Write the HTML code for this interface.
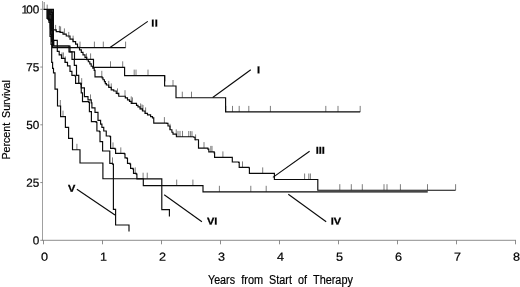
<!DOCTYPE html>
<html><head><meta charset="utf-8"><title>Survival by stage</title>
<style>
html,body{margin:0;padding:0;background:#fff;}
body{width:520px;height:287px;overflow:hidden;}
svg{display:block;}
</style></head><body>
<svg width="520" height="287" viewBox="0 0 520 287">
<rect width="520" height="287" fill="#fff"/>
<g stroke="#707070" stroke-width="0.8" fill="none">
<path d="M42.5,1 V240.3" stroke="#808080" stroke-width="0.75"/>
<path d="M42.1,240.3 H516"/>
<path d="M40.3,9.30 H42.5"/>
<path d="M40.3,67.05 H42.5"/>
<path d="M40.3,124.80 H42.5"/>
<path d="M40.3,182.55 H42.5"/>
<path d="M40.3,240.30 H42.5"/>
<path d="M43.50,240.3 V244.3"/>
<path d="M102.50,240.3 V244.3"/>
<path d="M161.50,240.3 V244.3"/>
<path d="M220.50,240.3 V244.3"/>
<path d="M279.50,240.3 V244.3"/>
<path d="M338.50,240.3 V244.3"/>
<path d="M397.50,240.3 V244.3"/>
<path d="M456.50,240.3 V244.3"/>
<path d="M515.50,240.3 V244.3"/>
</g>
<g stroke="#666" stroke-width="0.85" fill="none" transform="translate(0,0.4)">
<path d="M44.2,1.6 V9 M47.2,4.2 V9"/>
<path d="M80.00,47.20 v-6 M94.40,47.20 v-6 M103.30,47.20 v-6 M125.60,47.20 v-6"/>
<path d="M86.50,59.00 v-6 M90.60,59.00 v-6 M110.50,66.90 v-6 M122.70,66.90 v-6 M134.20,75.20 v-6 M136.00,75.20 v-6 M148.00,75.20 v-6 M165.00,81.00 v-6 M173.00,85.60 v-6 M182.30,97.30 v-6 M191.50,97.30 v-6 M225.80,111.50 v-6 M232.50,111.50 v-6 M239.20,111.50 v-6 M248.80,111.50 v-6 M270.40,111.50 v-6 M325.80,111.50 v-6 M338.00,111.50 v-6 M360.20,111.50 v-6"/>
<path d="M55.60,30.50 v-6 M59.40,31.50 v-6 M60.60,32.00 v-6 M64.40,34.00 v-6 M68.75,37.50 v-6 M73.10,41.25 v-6 M101.80,76.40 v-6 M108.75,86.50 v-6 M111.25,89.00 v-6 M117.50,94.00 v-6 M125.00,95.80 v-6 M131.25,102.00 v-6 M132.50,103.00 v-6 M140.60,109.00 v-6 M142.00,110.00 v-6 M143.00,110.60 v-6 M145.60,113.00 v-6 M164.40,122.70 v-6 M170.00,129.40 v-6 M176.25,135.00 v-6 M178.00,136.50 v-6 M180.00,136.50 v-6 M182.50,136.50 v-6 M188.75,136.60 v-6 M190.60,136.70 v-6 M192.00,136.80 v-6 M195.60,140.00 v-6 M204.00,147.70 v-6 M210.80,151.50 v-6 M212.00,151.50 v-6 M222.90,157.00 v-6 M242.50,167.00 v-6 M262.70,173.00 v-6 M304.60,179.10 v-6 M308.80,179.10 v-6 M310.40,179.10 v-6 M339.80,189.80 v-6 M351.30,189.80 v-6 M362.30,189.80 v-6 M384.00,189.80 v-6 M387.00,189.80 v-6 M400.40,189.80 v-6 M427.50,189.80 v-6 M455.60,189.80 v-6"/>
<path d="M60.30,105.60 v-6 M63.00,116.25 v-6 M76.90,149.40 v-6 M143.10,178.30 v-6 M147.25,178.30 v-6 M176.70,185.20 v-6 M192.90,185.20 v-6 M219.40,191.40 v-6 M250.80,191.40 v-6 M266.20,191.40 v-6"/>
<path d="M112.50,163.00 v-6 M62.00,58.00 v-6 M63.40,58.00 v-6 M65.30,62.00 v-6"/>
<path d="M113.00,148.00 v-6 M120.80,153.00 v-6 M135.25,173.00 v-6 M81.70,83.75 v-6 M90.50,100.00 v-6"/>
</g>
<g stroke="#0a0a0a" stroke-width="1.15" fill="none" stroke-linejoin="miter" transform="translate(0,0.4)">
<path d="M46.9,8.9 H53.9 V45 H51.6 L51,38 L50.4,33 L49.7,27 L49.4,21 H48.6 L48.4,17.5 H46.9 Z" fill="#111" stroke="none" opacity="0.82"/>
<path d="M48.00,9.00 L48.00,19.00 L50.70,19.00 L50.70,34.00 L51.60,34.00 L51.60,41.00 L52.50,41.00 L52.50,47.20 L125.60,47.20"/>
<path d="M43.50,9.00 L53.40,9.00 L53.40,45.60 L69.00,45.60 L69.00,51.50 L74.50,51.50 L74.50,59.00 L93.50,59.00 L93.50,66.90 L124.60,66.90 L124.60,75.20 L164.60,75.20 L164.60,85.60 L176.00,85.60 L176.00,97.30 L225.60,97.30 L225.60,111.50 L360.20,111.50"/>
<path d="M51.20,9.00 L51.20,12.00 L52.40,12.00 L52.40,20.00 L53.20,20.00 L53.20,29.40 L56.25,29.40 L56.25,31.25 L60.00,31.25 L60.00,31.90 L63.00,31.90 L63.00,33.75 L66.25,33.75 L66.25,35.60 L70.00,35.60 L70.00,38.75 L73.00,38.75 L73.00,41.25 L75.60,41.25 L75.60,43.75 L77.50,43.75 L77.50,46.90 L79.50,46.90 L79.50,49.50 L81.30,49.50 L81.30,52.00 L83.00,52.00 L83.00,54.50 L85.00,54.50 L85.00,57.00 L86.80,57.00 L86.80,59.30 L88.30,59.30 L88.30,61.30 L89.80,61.30 L89.80,63.50 L91.20,63.50 L91.20,65.80 L92.80,65.80 L92.80,67.80 L94.20,67.80 L94.20,70.00 L95.00,70.00 L95.00,76.40 L102.10,76.40 L102.10,77.40 L103.00,77.40 L103.00,79.30 L104.40,79.30 L104.40,81.20 L105.30,81.20 L105.30,83.20 L106.40,83.20 L106.40,84.60 L108.75,84.60 L108.75,86.90 L111.25,86.90 L111.25,89.40 L113.75,89.40 L113.75,90.60 L116.25,90.60 L116.25,93.00 L118.75,93.00 L118.75,95.80 L125.30,95.80 L125.30,97.50 L127.50,97.50 L127.50,99.50 L129.50,99.50 L129.50,101.00 L131.25,101.00 L131.25,103.00 L136.50,103.00 L136.50,105.00 L138.00,105.00 L138.00,106.50 L140.00,106.50 L140.00,108.50 L142.50,108.50 L142.50,110.60 L145.00,110.60 L145.00,113.00 L147.50,113.00 L147.50,114.50 L150.60,114.50 L150.60,116.25 L152.50,116.25 L152.50,117.50 L153.75,117.50 L153.75,122.70 L166.90,122.70 L166.90,123.00 L168.00,123.00 L168.00,125.60 L170.00,125.60 L170.00,129.40 L171.90,129.40 L171.90,131.90 L173.00,131.90 L173.00,133.75 L176.40,133.75 L176.40,136.40 L193.75,136.40 L193.75,136.90 L195.00,136.90 L195.00,139.40 L198.50,139.40 L198.50,147.70 L207.90,147.70 L207.90,148.70 L208.80,148.70 L208.80,151.50 L214.20,151.50 L214.20,152.50 L214.60,152.50 L214.60,157.00 L231.30,157.00 L232.30,157.00 L232.30,161.60 L238.60,161.60 L238.60,162.00 L239.20,162.00 L239.20,167.00 L248.80,167.00 L248.80,167.30 L249.40,167.30 L249.40,173.00 L273.80,173.00 L274.40,173.00 L274.40,179.10 L317.50,179.10 L317.80,179.10 L317.80,189.85 L455.60,189.85"/>
<path d="M47.00,9.00 L47.00,18.00 L49.00,18.00 L49.00,22.00 L50.00,22.00 L50.00,36.00 L51.00,36.00 L51.00,44.00 L51.70,44.00 L51.70,62.00 L52.60,62.00 L52.60,68.00 L53.50,68.00 L53.50,72.50 L55.00,72.50 L55.00,88.75 L57.50,88.75 L57.50,105.60 L60.60,105.60 L60.60,116.25 L65.40,116.25 L65.40,127.00 L68.60,127.00 L68.60,138.00 L72.50,138.00 L72.50,149.40 L80.00,149.40 L80.00,162.60 L102.90,162.60 L102.90,178.30 L143.30,178.30 L143.30,185.20 L203.00,185.20 L203.00,191.45 L427.75,191.45"/>
<path d="M49.00,9.00 L49.00,20.00 L51.40,20.00 L51.40,30.00 L52.20,30.00 L52.20,36.00 L52.80,36.00 L52.80,40.00 L57.30,40.00 L57.30,51.00 L59.20,51.00 L59.20,54.50 L61.50,54.50 L61.50,58.00 L65.00,58.00 L65.00,62.00 L67.50,62.00 L67.50,65.50 L70.00,65.50 L70.00,71.00 L71.90,71.00 L71.90,75.00 L75.00,75.00 L75.00,75.60 L75.60,75.60 L75.60,83.00 L80.60,83.00 L80.60,83.75 L81.25,83.75 L81.25,92.50 L82.50,92.50 L82.50,101.25 L88.75,101.25 L88.75,101.90 L89.40,101.90 L89.40,111.25 L91.40,111.25 L91.40,121.25 L96.25,121.25 L96.25,121.90 L96.90,121.90 L96.90,130.60 L99.40,130.60 L99.40,131.25 L100.00,131.25 L100.00,141.25 L102.60,141.25 L102.60,150.60 L109.80,150.60 L109.80,163.00 L112.50,163.00 L112.50,163.75 L113.40,163.75 L113.40,209.00 L115.60,209.00 L115.60,224.60 L129.00,224.60 L129.00,231.00"/>
<path d="M50.00,9.00 L50.00,14.00 L51.20,14.00 L51.20,21.00 L52.20,21.00 L52.20,28.00 L53.00,28.00 L53.00,40.00 L53.80,40.00 L53.80,45.60 L70.00,45.60 L70.00,51.50 L72.00,51.50 L72.00,59.00 L74.30,59.00 L74.30,65.00 L76.50,65.00 L76.50,75.00 L78.75,75.00 L78.75,83.00 L81.25,83.00 L81.25,87.50 L84.40,87.50 L84.40,96.25 L88.00,96.25 L88.00,99.40 L91.25,99.40 L91.25,102.50 L91.90,102.50 L91.90,107.50 L95.00,107.50 L95.00,112.00 L98.00,112.00 L98.00,120.00 L100.60,120.00 L100.60,123.75 L101.90,123.75 L101.90,127.00 L103.75,127.00 L103.75,130.60 L106.25,130.60 L106.25,135.60 L110.00,135.60 L110.00,136.25 L110.60,136.25 L110.60,148.00 L115.00,148.00 L115.00,148.75 L115.60,148.75 L115.60,153.00 L124.40,153.00 L124.40,153.50 L125.00,153.50 L125.00,157.50 L126.90,157.50 L126.90,158.00 L127.50,158.00 L127.50,163.00 L130.00,163.00 L130.00,163.75 L130.60,163.75 L130.60,168.00 L133.00,168.00 L133.00,168.75 L133.50,168.75 L133.50,173.00 L136.25,173.00 L136.25,173.75 L136.90,173.75 L136.90,178.50 L161.80,178.50 L161.80,209.20 L169.40,209.20 L169.40,216.00"/>
</g>
<g stroke="#0a0a0a" stroke-width="1.1" fill="none">
<path d="M110,47.5 L147.8,21.4"/>
<path d="M212.7,97.5 L250.8,69.7"/>
<path d="M272.9,177.4 L309.6,151.3"/>
<path d="M288.3,194.2 L326.2,221.7"/>
<path d="M76.9,189.2 L115,215"/>
<path d="M164.2,194.8 L201.9,221.7"/>
</g>
<g font-family="'Liberation Sans', Arial, sans-serif" fill="#000">
<text transform="translate(39.2,13.60) rotate(0.05)" font-size="11.7" text-anchor="end" stroke="#000" stroke-width="0.2"><tspan letter-spacing="-1.9">1</tspan>00</text>
<text transform="translate(39.2,71.35) rotate(0.05)" font-size="11.7" text-anchor="end" stroke="#000" stroke-width="0.2">75</text>
<text transform="translate(39.2,129.10) rotate(0.05)" font-size="11.7" text-anchor="end" stroke="#000" stroke-width="0.2">50</text>
<text transform="translate(39.2,186.85) rotate(0.05)" font-size="11.7" text-anchor="end" stroke="#000" stroke-width="0.2">25</text>
<text transform="translate(39.2,244.60) rotate(0.05)" font-size="11.7" text-anchor="end" stroke="#000" stroke-width="0.2">0</text>
<text transform="translate(44.50,260.8) rotate(0.05) scale(1.08,1)" font-size="11.7" text-anchor="middle" stroke="#000" stroke-width="0.2">0</text>
<text transform="translate(103.50,260.8) rotate(0.05) scale(1.08,1)" font-size="11.7" text-anchor="middle" stroke="#000" stroke-width="0.2">1</text>
<text transform="translate(162.50,260.8) rotate(0.05) scale(1.08,1)" font-size="11.7" text-anchor="middle" stroke="#000" stroke-width="0.2">2</text>
<text transform="translate(221.50,260.8) rotate(0.05) scale(1.08,1)" font-size="11.7" text-anchor="middle" stroke="#000" stroke-width="0.2">3</text>
<text transform="translate(280.50,260.8) rotate(0.05) scale(1.08,1)" font-size="11.7" text-anchor="middle" stroke="#000" stroke-width="0.2">4</text>
<text transform="translate(339.50,260.8) rotate(0.05) scale(1.08,1)" font-size="11.7" text-anchor="middle" stroke="#000" stroke-width="0.2">5</text>
<text transform="translate(398.50,260.8) rotate(0.05) scale(1.08,1)" font-size="11.7" text-anchor="middle" stroke="#000" stroke-width="0.2">6</text>
<text transform="translate(457.50,260.8) rotate(0.05) scale(1.08,1)" font-size="11.7" text-anchor="middle" stroke="#000" stroke-width="0.2">7</text>
<text transform="translate(516.50,260.8) rotate(0.05) scale(1.08,1)" font-size="11.7" text-anchor="middle" stroke="#000" stroke-width="0.2">8</text>
<text x="208.0" y="283.6" font-size="12" textLength="27.0" lengthAdjust="spacingAndGlyphs" stroke="#000" stroke-width="0.2">Years</text>
<text x="241.2" y="283.6" font-size="12" textLength="21.9" lengthAdjust="spacingAndGlyphs" stroke="#000" stroke-width="0.2">from</text>
<text x="269.1" y="283.6" font-size="12" textLength="22.8" lengthAdjust="spacingAndGlyphs" stroke="#000" stroke-width="0.2">Start</text>
<text x="297.9" y="283.6" font-size="12" textLength="9.0" lengthAdjust="spacingAndGlyphs" stroke="#000" stroke-width="0.2">of</text>
<text x="313.0" y="283.6" font-size="12" textLength="39.9" lengthAdjust="spacingAndGlyphs" stroke="#000" stroke-width="0.2">Therapy</text>
<text transform="translate(10.2,159.6) rotate(-90)" font-size="11.4" textLength="36.8" lengthAdjust="spacingAndGlyphs" stroke="#000" stroke-width="0.2">Percent</text>
<text transform="translate(10.2,117.9) rotate(-90)" font-size="11.4" textLength="37.7" lengthAdjust="spacingAndGlyphs" stroke="#000" stroke-width="0.2">Survival</text>
<text transform="translate(151.3,26.4) rotate(0.05) scale(1.1,1)" font-size="10" font-weight="bold" stroke="#000" stroke-width="0.25" letter-spacing="0.4">II</text>
<text transform="translate(256.95,73.3) rotate(0.05) scale(1.1,1)" font-size="10" font-weight="bold" stroke="#000" stroke-width="0.25" letter-spacing="0">I</text>
<text transform="translate(315.65,153.7) rotate(0.05) scale(1.1,1)" font-size="10" font-weight="bold" stroke="#000" stroke-width="0.25" letter-spacing="0">III</text>
<text transform="translate(330.65,224.4) rotate(0.05) scale(1.1,1)" font-size="10" font-weight="bold" stroke="#000" stroke-width="0.25" letter-spacing="0">IV</text>
<text transform="translate(68.1,191.7) rotate(0.05) scale(1.1,1)" font-size="10" font-weight="bold" stroke="#000" stroke-width="0.25" letter-spacing="0">V</text>
<text transform="translate(206.9,224.4) rotate(0.05) scale(1.1,1)" font-size="10" font-weight="bold" stroke="#000" stroke-width="0.25" letter-spacing="0">VI</text>
</g>
</svg>
</body></html>
